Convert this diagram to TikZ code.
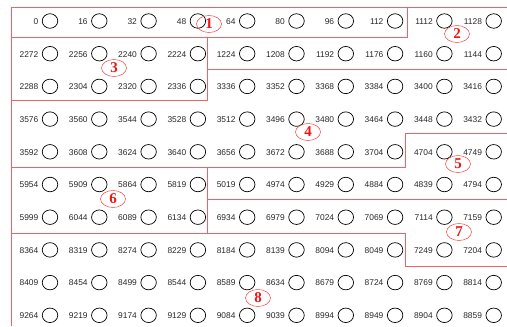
\documentclass[tikz,border=0pt]{standalone}
\usepackage{fontspec}
\setmainfont{Liberation Sans}
\newfontfamily\tagfont{Liberation Serif}
\usetikzlibrary{shapes.geometric}
\definecolor{linered}{RGB}{238,100,100}
\definecolor{tagred}{RGB}{240,20,20}
\definecolor{numgray}{RGB}{40,40,40}
\begin{document}
\begin{tikzpicture}[x=1pt,y=-1pt,
  hole/.style={ellipse,draw=black,line width=0.7pt,minimum width=15.5pt,minimum height=14.5pt,inner sep=0pt},
  numlabel/.style={anchor=east,inner sep=0pt,font=\fontsize{8.4}{9}\selectfont,text=numgray},
  zoneline/.style={draw=linered,line width=0.9pt},
  zonetag/.style={ellipse,draw=tagred!80,line width=0.5pt,minimum width=25pt,minimum height=17pt,inner sep=0pt,font=\tagfont\bfseries\fontsize{15}{15}\selectfont,text=tagred}]
\useasboundingbox (0,0) rectangle (507,327);
% zone borders
\draw[zoneline] (11,326) -- (11,7) -- (507,7);
\draw[zoneline] (11,37) -- (407,37) -- (407,7);
\draw[zoneline] (207,37) -- (207,100) -- (11,100);
\draw[zoneline] (207,69) -- (507,69);
\draw[zoneline] (11,167) -- (405,167) -- (405,133) -- (507,133);
\draw[zoneline] (207,167) -- (207,233);
\draw[zoneline] (207,199) -- (507,199);
\draw[zoneline] (11,233) -- (405,233) -- (405,266) -- (507,266);
% holes
\foreach \row [count=\r from 0] in {
  {0,16,32,48,64,80,96,112,1112,1128},
  {2272,2256,2240,2224,1224,1208,1192,1176,1160,1144},
  {2288,2304,2320,2336,3336,3352,3368,3384,3400,3416},
  {3576,3560,3544,3528,3512,3496,3480,3464,3448,3432},
  {3592,3608,3624,3640,3656,3672,3688,3704,4704,4749},
  {5954,5909,5864,5819,5019,4974,4929,4884,4839,4794},
  {5999,6044,6089,6134,6934,6979,7024,7069,7114,7159},
  {8364,8319,8274,8229,8184,8139,8094,8049,7249,7204},
  {8409,8454,8499,8544,8589,8634,8679,8724,8769,8814},
  {9264,9219,9174,9129,9084,9039,8994,8949,8904,8859}}
{
  \foreach \v [count=\c from 0] in \row {
    \node[hole] (c-\r-\c) at ({50+49.3*\c},{21+32.7*\r}) {};
    \node[numlabel] (l-\r-\c) at ([xshift=-11.5pt,yshift=-0.5pt]c-\r-\c.center) {\v};
  }
}
% zone tags
\node[zonetag] (t1) at (209,24) {1};
\node[zonetag] (t2) at (457,34) {2};
\node[zonetag] (t3) at (114,68) {3};
\node[zonetag] (t4) at (308,132) {4};
\node[zonetag] (t5) at (458,164) {5};
\node[zonetag] (t6) at (113,199) {6};
\node[zonetag] (t7) at (459,232) {7};
\node[zonetag] (t8) at (258,298) {8};
\end{tikzpicture}
\end{document}
